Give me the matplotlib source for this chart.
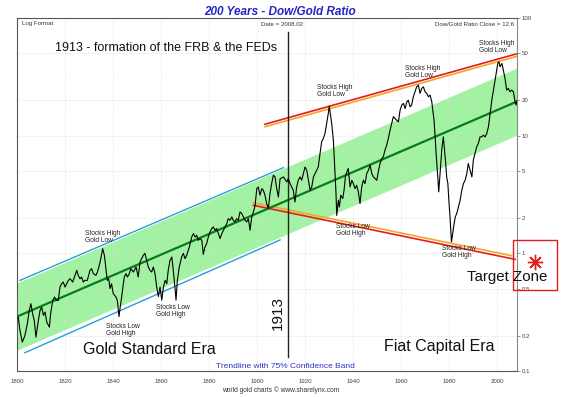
"""Dow/Gold ratio over 200 years on a log scale, trend band and era notes."""

import matplotlib as mpl
import matplotlib.pyplot as plt
from matplotlib.lines import Line2D
from matplotlib.patches import Rectangle
from matplotlib.ticker import NullLocator

W, H = 562, 397

# Dow/Gold ratio
YEARS = [
    1800.5, 1801.25, 1802.2, 1803.3, 1804.3, 1805.1, 1805.8, 1806.5, 1807.2, 1807.9,
    1808.9, 1809.6, 1810.3, 1811.0, 1811.7, 1812.4, 1813.5, 1814.0, 1814.9, 1815.6,
    1816.5, 1817.2, 1817.9, 1818.6, 1819.3, 1820.0, 1821.4, 1822.1, 1823.2, 1824.2,
    1824.9, 1825.5, 1826.25, 1826.9, 1827.6, 1828.3, 1829.3, 1830.4, 1831.1, 1831.8,
    1832.9, 1833.5, 1834.3, 1834.9, 1835.7, 1836.4, 1837.1, 1837.6, 1838.2, 1838.75,
    1839.4, 1840.1, 1841.25, 1841.8, 1842.5, 1842.9, 1843.6, 1844.3, 1844.7, 1845.4,
    1846.0, 1846.8, 1847.4, 1848.5, 1849.6, 1850.5,
    1851.25, 1852.6, 1853.3, 1854.0, 1854.7, 1855.4, 1856.1, 1856.8, 1857.5, 1858.2,
    1858.9, 1859.6, 1860.3, 1861.0, 1861.7, 1862.4, 1863.0, 1863.75, 1864.5, 1865.1,
    1865.8, 1866.25, 1866.8, 1867.6, 1868.6, 1869.3, 1870.0, 1870.7, 1871.8, 1872.8,
    1873.5, 1874.2, 1874.9, 1875.5, 1876.25, 1877.0, 1877.6, 1878.3, 1879.0, 1879.7,
    1880.4, 1881.1, 1881.8, 1882.5, 1883.2, 1883.9, 1884.6, 1885.3, 1886.0, 1886.7,
    1887.4, 1888.0, 1888.75, 1889.5, 1890.1, 1890.8, 1891.5, 1892.2, 1892.9, 1893.6,
    1894.3, 1895.0, 1895.7, 1896.4, 1897.1, 1897.8, 1898.5, 1899.2, 1899.9, 1900.5,
    1901.25, 1902.0, 1902.6, 1903.3, 1904.0, 1904.7, 1905.4, 1906.1, 1906.8, 1907.5,
    1908.2, 1908.9,
    1909.6, 1911.0, 1912.4, 1913.0, 1913.75, 1914.4, 1915.1, 1915.8, 1916.5, 1917.2,
    1917.9, 1918.6, 1919.3, 1920.0, 1920.7, 1921.4, 1922.1, 1922.8, 1923.5, 1924.2,
    1924.9, 1925.5, 1926.25, 1926.9, 1927.6, 1928.3, 1929.0, 1929.7, 1930.1, 1930.7,
    1931.1, 1931.8, 1932.5, 1932.9, 1933.2, 1933.9, 1934.3, 1934.9, 1935.7, 1936.25,
    1936.8, 1937.4, 1938.0, 1938.75, 1939.5, 1940.1, 1940.8, 1941.5, 1942.2, 1942.9,
    1943.6, 1944.3, 1945.0, 1945.7, 1946.4, 1947.1, 1947.8, 1948.5, 1949.2, 1949.9,
    1950.5, 1951.25, 1952.0, 1952.6, 1953.3, 1954.0, 1954.7,
    1955.4, 1956.1, 1956.8, 1957.5, 1958.2, 1958.9, 1959.6, 1960.3, 1961.0, 1961.7,
    1962.4, 1963.0, 1963.75, 1964.4, 1965.1, 1965.8, 1966.5, 1967.2, 1967.9, 1968.6,
    1969.3, 1970.0, 1970.7, 1971.4, 1972.1, 1972.8, 1973.2, 1973.75, 1974.2, 1974.6,
    1975.1, 1975.7, 1976.25, 1977.0, 1977.6, 1978.0, 1978.6, 1979.0, 1979.5, 1979.9,
    1980.4, 1981.0, 1981.5, 1982.1, 1982.6, 1983.2, 1983.9, 1984.6, 1985.3, 1986.0,
    1986.7, 1987.4, 1988.0, 1988.75, 1989.5, 1990.1, 1990.8, 1991.5, 1992.2, 1992.9,
    1993.6, 1994.3, 1995.0, 1995.7, 1996.4, 1997.1, 1997.8, 1998.5, 1999.2, 1999.9,
    2000.3, 2000.8, 2001.25, 2002.0, 2002.6, 2003.3, 2004.0, 2004.7, 2005.4, 2006.1,
    2006.8, 2007.5, 2007.9, 2008.3,
]
RATIO = [
    0.287, 0.221, 0.176, 0.200, 0.252, 0.327, 0.373, 0.307, 0.269, 0.194,
    0.269, 0.327, 0.349, 0.297, 0.317, 0.260, 0.236, 0.307, 0.398, 0.425,
    0.398, 0.398, 0.517, 0.552, 0.570, 0.517, 0.589, 0.608, 0.570, 0.650,
    0.717, 0.650, 0.608, 0.629, 0.570, 0.589, 0.589, 0.717, 0.740, 0.672,
    0.650, 0.694, 0.791, 0.901, 1.096, 0.962, 0.717, 0.589, 0.608, 0.501,
    0.552, 0.454, 0.425, 0.398, 0.290, 0.338, 0.425, 0.552, 0.629, 0.672,
    0.629, 0.672, 0.740, 0.694, 0.765, 0.629,
    0.844, 0.962, 1.0, 0.872, 0.765, 0.717, 0.694, 0.765, 0.672, 0.517,
    0.430, 0.517, 0.400, 0.517, 0.589, 0.552, 0.717, 0.872, 0.930, 0.717,
    0.517, 0.400, 0.589, 0.765, 0.930, 1.0, 0.901, 0.962, 1.132, 1.377,
    1.472, 1.377, 1.423, 1.29, 1.334, 1.29, 0.98, 1.132, 1.21, 1.377,
    1.518, 1.622, 1.675, 1.57, 1.622, 1.472, 1.334, 1.472, 1.57, 1.675,
    1.79, 1.97, 1.91, 2.04, 1.91, 1.85, 1.97, 1.91, 2.25, 2.18,
    2.04, 1.91, 1.85, 1.97, 1.57, 2.04, 2.25, 2.56, 3.55, 3.67,
    3.12, 3.55, 3.44, 3.12, 2.65, 2.40, 3.22, 3.92, 4.61, 4.46,
    3.55, 3.01,
    4.3, 4.46, 4.04, 4.32, 3.92, 3.67, 3.44, 2.73, 3.67, 4.18,
    4.46, 4.18, 4.77, 5.42, 5.09, 4.18, 3.44, 3.67, 4.46, 4.77,
    5.09, 5.42, 7.05, 8.85, 9.46, 10.4, 12.7, 15.5, 17.8, 14.5,
    12.7, 9.16, 4.77, 3.22, 2.10, 2.83, 2.48, 3.12, 2.92, 3.44,
    4.46, 4.92, 5.26, 3.67, 4.18, 3.92, 3.55, 3.79, 3.33, 2.65,
    3.67, 4.18, 3.92, 4.77, 5.09, 5.61, 4.77, 4.46, 4.32, 4.18,
    4.92, 5.80, 6.40, 6.61, 7.53, 8.30, 9.46,
    11.1, 12.7, 14.5, 14.0, 13.5, 13.1, 16.5, 18.2, 18.8, 17.0,
    19.4, 20.0, 17.6, 18.2, 21.4, 23.6, 26.0, 26.9, 22.9, 25.2,
    26.0, 23.6, 22.9, 21.4, 22.1, 19.4, 16.5, 13.5, 9.77, 7.05,
    5.09, 3.33, 4.77, 7.78, 9.77, 8.03, 5.80, 4.46, 3.92, 2.83,
    2.04, 1.25, 1.472, 1.79, 2.04, 2.18, 2.48, 2.83, 3.44, 3.92,
    4.18, 4.77, 5.80, 5.09, 4.46, 6.19, 7.05, 8.03, 8.59, 9.77,
    9.77, 10.1, 9.77, 10.4, 11.9, 15.5, 20.0, 24.4, 29.7, 36.1,
    41.1, 42.5, 38.5, 41.1, 36.1, 30.7, 24.4, 25.2, 23.6, 24.4,
    23.6, 19.4, 18.2, 20.0,
]

# Trendline and its 75% confidence band (multiplicative half-width)
TREND_YEARS = [1800, 2008.3]
TREND_VALUES = [0.29, 19.5]
BAND_FACTOR = 1.93

# Gold standard channel (blue)
UPPER_BLUE_YEARS = [1801.25, 1911.0]
UPPER_BLUE = [0.589, 5.35]
LOWER_BLUE_YEARS = [1803.3, 1909.6]
LOWER_BLUE = [0.143, 1.30]

# Fiat era channel (red with orange inner line)
UPPER_RED_YEARS = [1903.3, 2008.3]
UPPER_RED = [12.5, 49.7]
UPPER_ORANGE = [11.9, 47.3]
LOWER_RED_YEARS = [1898.5, 2007.5]
LOWER_RED = [2.56, 0.889]
LOWER_ORANGE_YEARS = [1898.5, 2006.0]
LOWER_ORANGE = [2.69, 0.955]

FED_YEAR = 1913
FED_SPAN = [0.131, 76.0]

X_TICKS = list(range(1800, 2001, 20))
Y_TICKS = [0.1, 0.2, 0.5, 1, 2, 5, 10, 20, 50, 100]
Y_LABELS = ["0.1", "0.2", "0.5", "1", "2", "5", "10", "20", "50", "100"]

# annotation text and its (left, centre) in pixels
NOTES = [
    ("Stocks High\nGold Low", 85, 237),
    ("Stocks Low\nGold High", 106, 330),
    ("Stocks Low\nGold High", 156, 311),
    ("Stocks High\nGold Low", 317, 91),
    ("Stocks Low\nGold High", 336, 230),
    ("Stocks High\nGold Low", 405, 72),
    ("Stocks High\nGold Low", 479, 47),
    ("Stocks Low\nGold High", 442, 252),
]

FONT = ["Liberation Sans", "DejaVu Sans"]


def px(x, y):
    """Pixel position on the 562x397 canvas to figure fraction."""
    return x / W, 1 - y / H


def plot_ratio():
    plt.rcParams["font.family"] = FONT
    fig = plt.figure(figsize=(W / 100, H / 100), dpi=100)
    ax = fig.add_axes([17 / W, 1 - 371 / H, 500 / W, 353 / H])

    ax.set_yscale("log")
    ax.set_xlim(1800, 2008.3)
    ax.set_ylim(0.1, 100)

    # band and trend
    lo = [v / BAND_FACTOR for v in TREND_VALUES]
    hi = [v * BAND_FACTOR for v in TREND_VALUES]
    ax.fill_between(TREND_YEARS, lo, hi, color="#a3f2a3", lw=0, zorder=1)
    ax.plot(TREND_YEARS, TREND_VALUES, color="#0b7a1c", lw=1.6, zorder=3)

    ax.plot(UPPER_BLUE_YEARS, UPPER_BLUE, color="#2a9fd6", lw=1.0, zorder=2)
    ax.plot(LOWER_BLUE_YEARS, LOWER_BLUE, color="#2a9fd6", lw=1.0, zorder=2)

    ax.plot(UPPER_RED_YEARS, UPPER_ORANGE, color="#f5a524", lw=1.2, zorder=2)
    ax.plot(UPPER_RED_YEARS, UPPER_RED, color="#e41e1a", lw=1.2, zorder=2)
    ax.plot(LOWER_ORANGE_YEARS, LOWER_ORANGE, color="#f5a524", lw=1.2, zorder=2)
    ax.plot(LOWER_RED_YEARS, LOWER_RED, color="#e41e1a", lw=1.2, zorder=2,
            clip_on=False)

    ax.plot([FED_YEAR, FED_YEAR], FED_SPAN, color="#222222", lw=1.0, zorder=4)

    ax.plot(YEARS, RATIO, color="black", lw=0.8, zorder=5)

    # grid, ticks, frame
    ax.set_xticks(X_TICKS)
    ax.set_yticks(Y_TICKS)
    ax.set_yticklabels(Y_LABELS)
    ax.yaxis.set_minor_locator(NullLocator())
    ax.yaxis.tick_right()
    ax.grid(True, color="#dcdcdc", lw=0.5, ls=(0, (1, 1)), zorder=0)
    ax.tick_params(axis="x", length=0, pad=5.5, labelsize=4.4, labelcolor="#444444")
    ax.tick_params(axis="y", length=2.2, width=0.6, pad=1.2, labelsize=4.4,
                   labelcolor="#444444", color="#888888")
    for side in ("left", "top", "bottom"):
        ax.spines[side].set_color("#555555")
        ax.spines[side].set_linewidth(0.8)
    ax.spines["right"].set_color("#888888")
    ax.spines["right"].set_linewidth(0.8)

    # headings
    fig.text(*px(280, 12), "200 Years - Dow/Gold Ratio", ha="center", va="center",
             fontsize=8.5, fontweight="bold", fontstyle="italic", color="#2424c8")
    fig.text(*px(22, 24), "Log Format", ha="left", va="center", fontsize=4.4,
             color="#333333")
    fig.text(*px(282, 24), "Date = 2008.02", ha="center", va="center",
             fontsize=4.4, color="#333333")
    fig.text(*px(514, 24), "Dow/Gold Ratio Close = 12.6", ha="right",
             va="center", fontsize=4.4, color="#333333")

    fig.text(*px(55, 48), "1913 - formation of the FRB & the FEDs", ha="left",
             va="center", fontsize=9, color="#111111")
    fig.text(*px(83, 349), "Gold Standard Era", ha="left", va="center",
             fontsize=11.5, color="#111111")
    fig.text(*px(384, 346), "Fiat Capital Era", ha="left", va="center",
             fontsize=11.5, color="#111111")
    fig.text(*px(278, 313), "1913", ha="center", va="center", rotation=90,
             fontsize=11, color="#111111")
    fig.text(*px(285, 367), "Trendline with 75% Confidence Band", ha="center",
             va="center", fontsize=6, color="#3030c8")
    fig.text(*px(281, 390), "world gold charts \u00a9 www.sharelynx.com",
             ha="center", va="center", fontsize=4.8, color="#333333")

    for text, x, y in NOTES:
        fig.text(*px(x, y), text, ha="left", va="center", fontsize=4.8,
                 linespacing=1.05, color="#222222", zorder=6)

    # target zone
    x0, y0 = px(513, 290)
    x1, y1 = px(557, 240)
    fig.add_artist(Rectangle((x0, y0), x1 - x0, y1 - y0, transform=fig.transFigure,
                             fill=False, ec="#e41e1a", lw=1.0))
    sx, sy = px(535, 262)
    fig.add_artist(Line2D([sx], [sy], transform=fig.transFigure, marker=(8, 2, 0),
                          ms=11, mew=1.0, color="#e41e1a", ls="none"))
    fig.text(*px(467, 277), "Target Zone", ha="left", va="center",
             fontsize=10.8, color="#111111", zorder=7)
    return fig


def main():
    fig = plot_ratio()
    fig.savefig("out.png", dpi=100)


if __name__ == "__main__":
    main()
